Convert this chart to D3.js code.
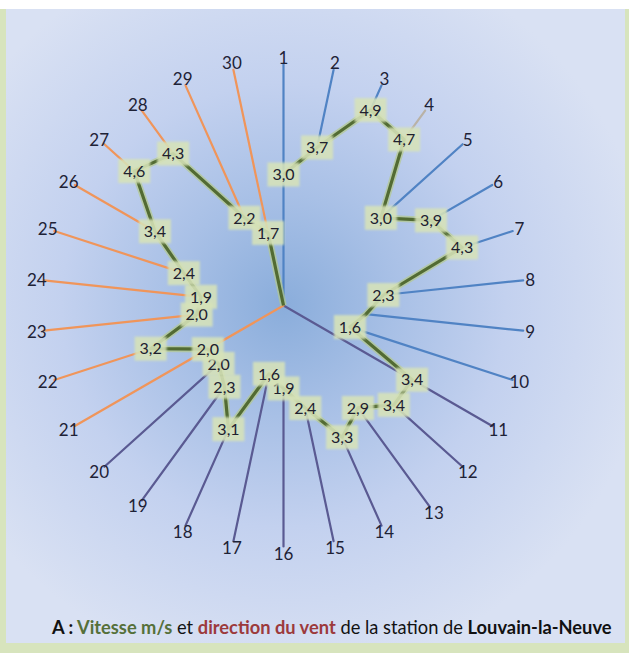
<!DOCTYPE html>
<html><head><meta charset="utf-8">
<script src="https://cdn.jsdelivr.net/npm/d3@7"></script>
<style>html,body{margin:0;padding:0;background:#fff;} svg{display:block;}</style>
</head><body>
<svg id="chart" width="629" height="653"></svg>
<script>
// ---- data ----
const dayLabels = ["1","2","3","4","5","6","7","8","9","10","11","12","13","14","15",
                   "16","17","18","19","20","21","22","23","24","25","26","27","28","29","30"];
const speeds = [3.0,3.7,4.9,4.7,3.0,3.9,4.3,2.3,1.9,1.6,3.4,3.4,2.9,3.3,2.4,
                1.9,1.6,3.1,2.3,2.0,2.0,3.2,2.0,1.9,2.4,3.4,4.6,4.3,2.2,1.7];
const unlabeledDays = ["9"];
const titleParts = ["A : ", "Vitesse m/s", " et ", "direction du vent", " de la station de ", "Louvain-la-Neuve"];

// ---- layout ----
const W = 629, H = 653;
const cx = 283.5, cy = 305.5;
const svg = d3.select("#chart");
const defs = svg.append("defs");
const grad = defs.append("radialGradient").attr("id","bg")
  .attr("gradientUnits","userSpaceOnUse").attr("cx",cx).attr("cy",cy).attr("r",370);
[[0,"#8aaddb"],[0.3,"#a8c0e6"],[0.6,"#c3d1ef"],[1,"#d9e1f3"]].forEach(s=>
  grad.append("stop").attr("offset",s[0]).attr("stop-color",s[1]));
const blur = defs.append("filter").attr("id","soft").attr("x","-20%").attr("y","-20%").attr("width","140%").attr("height","140%");
blur.append("feGaussianBlur").attr("stdDeviation",0.9);

svg.append("rect").attr("x",0).attr("y",9).attr("width",W).attr("height",H-9).attr("fill","#d7e4bd");
svg.append("rect").attr("x",6).attr("y",9).attr("width",619).attr("height",634).attr("fill","url(#bg)");

const r = d3.scaleLinear().domain([0,6]).range([0,262]);
const ang = d3.scaleLinear().domain([0, dayLabels.length]).range([0, 2*Math.PI]);
const spokeEnd = 241, labelR = 248;
const g = svg.append("g").attr("transform",`translate(${cx},${cy})`);

function pt(a, rad){ return [rad*Math.sin(a), -rad*Math.cos(a)]; }
function spokeColor(i){
  if (dayLabels[i]==="4") return "#b9b2a6";
  if (i<10) return "#5083c4";
  if (i<20) return "#5a5a92";
  return "#f0955a";
}
const fromCenter = ["1","11","21"];

// spokes
g.selectAll("line.spoke").data(dayLabels).join("line").attr("class","spoke")
  .each(function(d,i){
    const a = ang(i);
    const r0 = fromCenter.includes(d) ? 0 : r(speeds[i]);
    const rEnd = spokeEnd + (d==="13" ? 8 : 0);
    const p0 = pt(a,r0), p1 = pt(a,rEnd);
    d3.select(this).attr("x1",p0[0]).attr("y1",p0[1]).attr("x2",p1[0]).attr("y2",p1[1]);
  })
  .attr("stroke",(d,i)=>spokeColor(i)).attr("stroke-width",2.2).attr("stroke-linecap","round");

// green speed line
const pts = speeds.map((v,i)=>({a:ang(i), v:v}));
pts.push({a:ang(0), v:0});
const line = d3.lineRadial().angle(d=>d.a).radius(d=>r(d.v));
g.append("path").attr("d",line(pts)).attr("fill","none")
  .attr("stroke","#b4c98c").attr("stroke-width",6.5).attr("stroke-opacity",0.7).attr("stroke-linejoin","round");
g.append("path").attr("d",line(pts)).attr("fill","none")
  .attr("stroke","#526b33").attr("stroke-width",3.2).attr("stroke-linejoin","round");

// data labels
const fr = d3.formatLocale({decimal:",", thousands:".", grouping:[3], currency:["","€"]}).format(".1f");
const font = "Lato, 'Open Sans', sans-serif";
const lab = g.selectAll("g.dl").data(speeds.map((v,i)=>({v,i})).filter(d=>!unlabeledDays.includes(dayLabels[d.i])))
  .join("g").attr("class","dl")
  .attr("transform",d=>{const p=pt(ang(d.i), r(d.v)); return `translate(${p[0]},${p[1]})`;});
lab.append("rect").attr("x",-16).attr("y",-12).attr("width",32).attr("height",24)
  .attr("fill","#d6e2b8").attr("fill-opacity",0.88).attr("filter","url(#soft)");
lab.append("text").text(d=>fr(d.v)).attr("text-anchor","middle").attr("dy","0.36em")
  .attr("font-family",font).attr("font-size",16).attr("fill","#20202e");

// day labels
g.selectAll("text.day").data(dayLabels).join("text").attr("class","day")
  .each(function(d,i){
    const p = pt(ang(i), labelR + (d==="13"?8:0));
    d3.select(this).attr("x",p[0]).attr("y",p[1]);
  })
  .attr("text-anchor","middle").attr("dy","0.36em")
  .attr("font-family",font).attr("font-size",17).attr("fill","#1e2236").text(d=>d);

// title
const styles = [
  {w:"bold", c:"#111"}, {w:"bold", c:"#55703a"}, {w:"normal", c:"#111"},
  {w:"bold", c:"#9c3a3c"}, {w:"normal", c:"#111"}, {w:"bold", c:"#111"}];
const t = svg.append("text").attr("x",52).attr("y",634).attr("font-family",font).attr("font-size",15);
titleParts.forEach((s,i)=>t.append("tspan").text(s).attr("font-weight",styles[i].w).attr("fill",styles[i].c));
t.attr("style","white-space:pre");
const tw = t.node().getComputedTextLength();
t.attr("font-size", 15*560/tw);
</script>
</body></html>
